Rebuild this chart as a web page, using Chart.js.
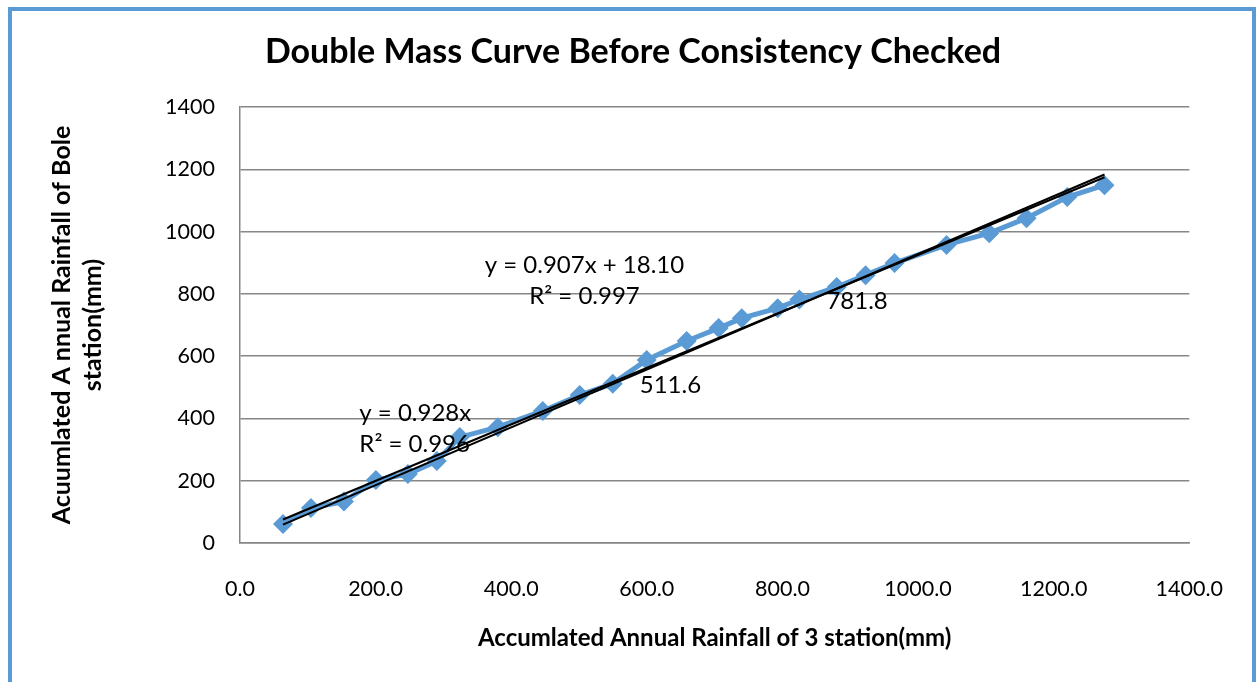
<!DOCTYPE html>
<html lang="en">
<head>
    <meta charset="UTF-8" />
    <title>Double Mass Curve</title>
    <script src="https://cdn.jsdelivr.net/npm/chart.js"></script>
    <style>
        body {
            margin: 0;
            background: #fff;
            font-family: Lato, sans-serif;
        }
        .frame {
            position: absolute;
            left: 8px;
            top: 7px;
            width: 1240px;
            height: 720px;
            border: 4px solid #5b9bd5;
        }
        #massChart {
            position: absolute;
            left: 0;
            top: 0;
        }
    </style>
</head>
<body>
    <div class="frame"></div>
    <canvas id="massChart" width="1256" height="682"></canvas>

    <script>
        // accumulated annual rainfall of the 3 stations (x) and of Bole (y), mm
        const stationsAccum = [63.4, 104.6, 153.3, 200.4, 247.6, 290.3, 324.2, 380.2, 446.5, 501.0,
            549.7, 599.8, 658.8, 706.0, 740.0, 793.0, 825.0, 880.0, 922.6, 965.3,
            1042.0, 1105.0, 1160.0, 1220.0, 1275.0];
        const boleAccum = [61.0, 112.4, 133.0, 202.0, 221.5, 263.0, 340.0, 372.0, 424.0, 475.0,
            511.6, 587.6, 648.6, 690.0, 722.0, 754.0, 781.8, 822.0, 860.0, 899.0,
            957.0, 995.0, 1043.0, 1111.0, 1149.0];
        const labelledValues = [511.6, 781.8];

        // trendlines shown on the chart: y = slope * x + intercept
        const trendSlopes = [0.928, 0.907];
        const trendIntercepts = [0, 18.10];
        const trendTexts = [
            ['y = 0.928x', 'R\u00b2 = 0.996'],
            ['y = 0.907x + 18.10', 'R\u00b2 = 0.997']
        ];

        const xTicks = [0, 200, 400, 600, 800, 1000, 1200, 1400];
        const yTicks = [0, 200, 400, 600, 800, 1000, 1200, 1400];

        const points = stationsAccum.map((x, i) => ({ x: x, y: boleAccum[i] }));
        const xMin = stationsAccum[0];
        const xMax = stationsAccum[stationsAccum.length - 1];
        const trendData = trendSlopes.map((m, i) => [
            { x: xMin, y: m * xMin + trendIntercepts[i] },
            { x: xMax, y: m * xMax + trendIntercepts[i] }
        ]);

        const FONT = 'Lato, "Liberation Sans", sans-serif';

        // where the trendline equations sit (data coordinates) and how
        const eqPlacement = [
            { x: 176, y: 418, align: 'left' },
            { x: 508, y: 893, align: 'center' }
        ];

        const textPlugin = {
            id: 'chartTexts',
            afterDatasetsDraw(chart) {
                const ctx = chart.ctx;
                const xs = chart.scales.x;
                const ys = chart.scales.y;
                ctx.save();
                ctx.fillStyle = '#000';
                ctx.font = '24px ' + FONT;
                ctx.textBaseline = 'middle';

                // value labels next to the break points
                const meta = chart.getDatasetMeta(2);
                ctx.textAlign = 'left';
                boleAccum.forEach((v, i) => {
                    if (labelledValues.includes(v)) {
                        const pt = meta.data[i];
                        ctx.fillText(v.toFixed(1), pt.x + 27, pt.y + 2);
                    }
                });

                // trendline equations
                eqPlacement.forEach((p, i) => {
                    ctx.textAlign = p.align;
                    const px = xs.getPixelForValue(p.x);
                    const py = ys.getPixelForValue(p.y);
                    trendTexts[i].forEach((line, j) => {
                        ctx.fillText(line, px, py + j * 31);
                    });
                });
                ctx.restore();
            }
        };

        new Chart(document.getElementById('massChart'), {
            type: 'scatter',
            data: {
                datasets: [
                    {
                        label: 'Trend 1',
                        data: trendData[0],
                        showLine: true,
                        borderColor: '#000',
                        borderWidth: 2,
                        pointRadius: 0,
                        order: 0
                    },
                    {
                        label: 'Trend 2',
                        data: trendData[1],
                        showLine: true,
                        borderColor: '#000',
                        borderWidth: 2,
                        pointRadius: 0,
                        order: 1
                    },
                    {
                        label: 'Bole',
                        data: points,
                        showLine: true,
                        borderColor: '#5b9bd5',
                        backgroundColor: '#5b9bd5',
                        borderWidth: 5,
                        pointStyle: 'rectRot',
                        pointRadius: 10,
                        pointBorderWidth: 0,
                        order: 2
                    }
                ]
            },
            options: {
                responsive: false,
                animation: false,
                layout: {
                    padding: { left: 76, right: 66, top: 0, bottom: 0 }
                },
                plugins: {
                    legend: { display: false },
                    tooltip: { enabled: false },
                    title: {
                        display: true,
                        text: 'Double Mass Curve Before Consistency Checked',
                        color: '#000',
                        font: { family: FONT, size: 34, weight: 'bold', lineHeight: 1.2 },
                        padding: { top: 31.6, bottom: 34.6 }
                    }
                },
                scales: {
                    x: {
                        type: 'linear',
                        min: 0,
                        max: 1400,
                        afterBuildTicks: s => { s.ticks = xTicks.map(v => ({ value: v })); },
                        afterFit: s => { s.height = 139; },
                        grid: { display: false, drawTicks: false },
                        border: { display: true, color: '#868686', width: 1.5 },
                        ticks: {
                            color: '#000',
                            padding: 33,
                            font: { family: FONT, size: 21.5 },
                            callback: v => v.toFixed(1)
                        },
                        title: {
                            display: true,
                            text: 'Accumlated Annual Rainfall of 3 station(mm)',
                            color: '#000',
                            font: { family: FONT, size: 24, weight: 'bold', lineHeight: 1.2 },
                            padding: { top: 0, bottom: 29.6 }
                        }
                    },
                    y: {
                        type: 'linear',
                        min: 0,
                        max: 1400,
                        afterBuildTicks: s => { s.ticks = yTicks.map(v => ({ value: v })); },
                        afterFit: s => { s.width = 164; },
                        grid: { color: '#868686', lineWidth: 1.5, drawTicks: false },
                        border: { display: true, color: '#868686', width: 1.5 },
                        ticks: {
                            color: '#000',
                            padding: 25,
                            font: { family: FONT, size: 21.5 },
                            callback: v => String(v)
                        },
                        title: {
                            display: true,
                            text: ['Acuumlated A nnual Rainfall of Bole', 'station(mm)'],
                            color: '#000',
                            font: { family: FONT, size: 25, weight: 'bold', lineHeight: 1.24 },
                            padding: { top: -29.5, bottom: 0 }
                        }
                    }
                }
            },
            plugins: [textPlugin]
        });
    </script>
</body>
</html>
